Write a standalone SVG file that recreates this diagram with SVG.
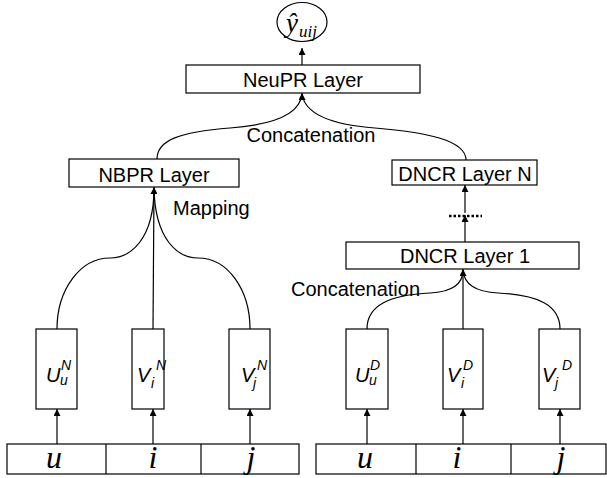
<svg xmlns="http://www.w3.org/2000/svg" width="607" height="478" viewBox="0 0 607 478">
<defs>
<marker id="ah" viewBox="0 0 8 8" refX="8" refY="4" markerWidth="7" markerHeight="7" markerUnits="userSpaceOnUse" orient="auto">
<path d="M0,0 L8,4 L0,8 Z" fill="#000"/>
</marker>
</defs>
<style>
.box{fill:#fff;stroke:#000;stroke-width:1.2}
.ln{fill:none;stroke:#000;stroke-width:1.2}
.lbl{font-family:"Liberation Sans",Arial,sans-serif;font-size:20px;fill:#000}
.m{font-family:"Liberation Sans",Arial,sans-serif;font-style:italic;font-size:20px;fill:#000}
.s{font-family:"Liberation Sans",Arial,sans-serif;font-style:italic;font-size:14px;fill:#000}
.big{font-family:"Liberation Serif","Times New Roman",serif;font-style:italic;font-size:32px;fill:#000}
.yh{font-family:"Liberation Serif","Times New Roman",serif;font-style:italic;font-size:27px;fill:#000}
.ys{font-family:"Liberation Serif","Times New Roman",serif;font-style:italic;font-size:17px;fill:#000}
</style>
<rect width="607" height="478" fill="#fff"/>

<g id="connectors">
<line class="ln" x1="302" y1="65" x2="302" y2="48" marker-end="url(#ah)"/>
<path class="ln" d="M302,94 C300,115 270,125 230,128 C180,132 157,140 157,159"/>
<path class="ln" d="M302,94 C305,115 335,125 375,128 C425,132 466,140 466,160"/>
<line class="ln" x1="302" y1="100" x2="302" y2="93" marker-end="url(#ah)"/>
<path class="ln" d="M154,188 C154,240 130,258 110,258 C80,258 57,290 57,329"/>
<path class="ln" d="M154,188 C155,240 178,258 198,258 C228,258 250,290 250,329"/>
<line class="ln" x1="153" y1="329" x2="154" y2="187" marker-end="url(#ah)"/>
<path class="ln" d="M463,270 C463,285 450,292 430,293 C390,295 367,305 367,329"/>
<path class="ln" d="M463,270 C464,285 478,292 498,293 C538,295 560,305 560,329"/>
<line class="ln" x1="463" y1="329" x2="463" y2="269" marker-end="url(#ah)"/>
<line class="ln" x1="465" y1="242" x2="465" y2="215" marker-end="url(#ah)"/>
<line class="ln" x1="465" y1="213" x2="465" y2="185" marker-end="url(#ah)"/>
<line x1="449" y1="216" x2="482" y2="216" stroke="#000" stroke-width="2.5" stroke-dasharray="2.5,2"/>
<line class="ln" x1="57" y1="444" x2="57" y2="409" marker-end="url(#ah)"/>
<line class="ln" x1="153" y1="444" x2="153" y2="409" marker-end="url(#ah)"/>
<line class="ln" x1="250" y1="444" x2="250" y2="409" marker-end="url(#ah)"/>
<line class="ln" x1="367" y1="444" x2="367" y2="409" marker-end="url(#ah)"/>
<line class="ln" x1="463" y1="444" x2="463" y2="409" marker-end="url(#ah)"/>
<line class="ln" x1="560" y1="444" x2="560" y2="409" marker-end="url(#ah)"/>
</g>

<g id="output">
<ellipse class="box" cx="302" cy="22" rx="25" ry="19.5"/>
<text class="yh" x="286" y="32">ŷ</text>
<text class="ys" x="299" y="37">uij</text>
</g>

<g id="neupr">
<rect class="box" x="186" y="65" width="234" height="28"/>
<text class="lbl" x="303" y="87" text-anchor="middle">NeuPR Layer</text>
</g>
<text class="lbl" x="311" y="142" text-anchor="middle">Concatenation</text>

<g id="nbpr">
<rect class="box" x="69" y="159" width="170" height="28"/>
<text class="lbl" x="154" y="182" text-anchor="middle">NBPR Layer</text>
</g>
<text class="lbl" x="173" y="215">Mapping</text>

<g id="dncrN">
<rect class="box" x="392" y="160" width="145" height="25"/>
<text class="lbl" x="465" y="181" text-anchor="middle">DNCR Layer N</text>
</g>

<g id="dncr1">
<rect class="box" x="346" y="242" width="233" height="27"/>
<text class="lbl" x="465" y="263" text-anchor="middle">DNCR Layer 1</text>
</g>
<text class="lbl" x="420" y="296" text-anchor="end">Concatenation</text>

<g id="UuN">
<rect class="box" x="36" y="329" width="41" height="80"/>
<text class="m" x="46" y="382">U</text>
<text class="s" x="60" y="385">u</text>
<text class="s" x="61" y="370">N</text>
</g>
<g id="ViN">
<rect class="box" x="132" y="329" width="32" height="80"/>
<text class="m" x="137" y="382">V</text>
<text class="s" x="151" y="388">i</text>
<text class="s" x="156" y="370">N</text>
</g>
<g id="VjN">
<rect class="box" x="229" y="329" width="41" height="80"/>
<text class="m" x="241" y="382">V</text>
<text class="s" x="253" y="388">j</text>
<text class="s" x="257" y="370">N</text>
</g>

<g id="UuD">
<rect class="box" x="346" y="329" width="42" height="80"/>
<text class="m" x="355" y="382">U</text>
<text class="s" x="369" y="385">u</text>
<text class="s" x="370" y="370">D</text>
</g>
<g id="ViD">
<rect class="box" x="443" y="329" width="40" height="80"/>
<text class="m" x="447" y="382">V</text>
<text class="s" x="461" y="388">i</text>
<text class="s" x="463" y="370">D</text>
</g>
<g id="VjD">
<rect class="box" x="539" y="329" width="41" height="80"/>
<text class="m" x="542" y="382">V</text>
<text class="s" x="555" y="388">j</text>
<text class="s" x="562" y="370">D</text>
</g>

<g id="inputN">
<rect class="box" x="7" y="444" width="292" height="30"/>
<line class="ln" x1="106" y1="444" x2="106" y2="474"/>
<line class="ln" x1="201" y1="444" x2="201" y2="474"/>
<text class="big" x="54" y="468" text-anchor="middle">u</text>
<text class="big" x="153" y="468" text-anchor="middle">i</text>
<text class="big" x="251" y="468" text-anchor="middle">j</text>
</g>
<g id="inputD">
<rect class="box" x="316" y="444" width="290" height="30"/>
<line class="ln" x1="416" y1="444" x2="416" y2="474"/>
<line class="ln" x1="511" y1="444" x2="511" y2="474"/>
<text class="big" x="365" y="468" text-anchor="middle">u</text>
<text class="big" x="457" y="468" text-anchor="middle">i</text>
<text class="big" x="561" y="468" text-anchor="middle">j</text>
</g>
</svg>
